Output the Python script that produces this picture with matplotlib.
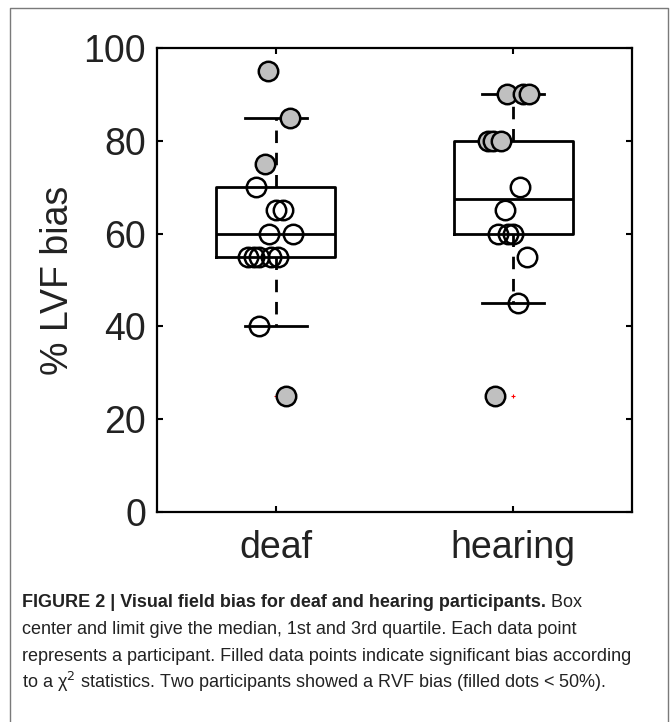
import matplotlib
matplotlib.use("Agg")
import matplotlib.pyplot as plt
from matplotlib.lines import Line2D

plt.rcParams['font.family'] = ['Liberation Sans', 'DejaVu Sans']

W, H = 671, 722

groups = ['deaf', 'hearing']

# per participant values, x jitter as seen in the figure, and whether the bias was significant
deaf_vals = [95, 85, 75, 70, 65, 65, 60, 60, 55, 55, 55, 55, 55, 40, 25]
deaf_x = [0.967, 1.059, 0.954, 0.916, 1.003, 1.031, 0.972, 1.073,
          0.883, 0.907, 0.930, 0.982, 1.010, 0.930, 1.045]
deaf_sig = [1, 1, 1, 0, 0, 0, 0, 0, 0, 0, 0, 0, 0, 0, 1]

hearing_vals = [90, 90, 90, 80, 80, 80, 70, 65, 60, 60, 60, 55, 45, 25]
hearing_x = [1.975, 2.042, 2.068, 1.895, 1.916, 1.947, 2.028, 1.965,
             1.937, 1.979, 2.000, 2.059, 2.020, 1.923]
hearing_sig = [1, 1, 1, 1, 1, 1, 0, 0, 0, 0, 0, 0, 0, 1]

# box summary
medians = [60, 67.5]
q1 = [55, 60]
q3 = [70, 80]
whislo = [40, 45]
whishi = [85, 90]
outliers = [[95, 25], [25]]

caption_bold = "FIGURE 2 | Visual field bias for deaf and hearing participants."
caption_rest = " Box"
caption_lines = [
    "center and limit give the median, 1st and 3rd quartile. Each data point",
    "represents a participant. Filled data points indicate significant bias according",
    "to a \u03c7$^{2}$ statistics. Two participants showed a RVF bias (filled dots < 50%).",
]

fig = plt.figure(figsize=(W / 100, H / 100), dpi=100)
ax = fig.add_axes([157 / W, 1 - 512 / H, 475 / W, 464 / H])

stats = []
for i in range(len(groups)):
    stats.append(dict(med=medians[i], q1=q1[i], q3=q3[i],
                      whislo=whislo[i], whishi=whishi[i],
                      fliers=outliers[i], label=groups[i]))

lw = 2.0
ax.bxp(stats, positions=[1, 2], widths=0.5, capwidths=0.26,
       boxprops=dict(color='k', linewidth=lw),
       medianprops=dict(color='k', linewidth=lw),
       whiskerprops=dict(color='k', linewidth=lw, linestyle=(0, (4.5, 3.5))),
       capprops=dict(color='k', linewidth=lw),
       flierprops=dict(marker='+', markeredgecolor='red', markersize=3,
                       markeredgewidth=0.8, linestyle='none'),
       zorder=2)

for xs, vs, sig in [(deaf_x, deaf_vals, deaf_sig), (hearing_x, hearing_vals, hearing_sig)]:
    ox = [x for x, s in zip(xs, sig) if not s]
    oy = [v for v, s in zip(vs, sig) if not s]
    fx = [x for x, s in zip(xs, sig) if s]
    fy = [v for v, s in zip(vs, sig) if s]
    ax.plot(ox, oy, 'o', mfc='none', mec='k', ms=14, mew=1.8, zorder=3)
    ax.plot(fx, fy, 'o', mfc='#c0c0c0', mec='k', ms=14, mew=1.8, zorder=4)

ax.set_xlim(0.5, 2.5)
ax.set_ylim(0, 100)
ax.set_yticks([0, 20, 40, 60, 80, 100])
ax.set_xticks([1, 2])
ax.set_xticklabels(groups)
ax.tick_params(direction='in', top=True, right=True, length=4, width=1.5,
               labelsize=27, colors='k', labelcolor='#222222')
ax.tick_params(axis='y', pad=8)
ax.tick_params(axis='x', pad=13)
ax.set_ylabel('% LVF bias', fontsize=27, labelpad=5, color='#222222')
for sp in ax.spines.values():
    sp.set_linewidth(1.6)

# frame around the whole figure (open at the bottom)
bx = [10 / W, 10 / W, 668 / W, 668 / W]
by = [-0.01, 1 - 8 / H, 1 - 8 / H, -0.01]
fig.add_artist(Line2D(bx, by, color='#7a7a7a', linewidth=1.0,
                      transform=fig.transFigure))

# caption
cap_size = 13
cap_color = '#222222'
x0 = 22 / W
baselines = [607, 634, 661, 688]
renderer = fig.canvas.get_renderer()
t = fig.text(x0, 1 - baselines[0] / H, caption_bold, fontsize=cap_size,
             weight='bold', color=cap_color, va='baseline', ha='left')
bb = t.get_window_extent(renderer=renderer)
fig.text(bb.x1 / W, 1 - baselines[0] / H, caption_rest, fontsize=cap_size,
         color=cap_color, va='baseline', ha='left')
for line, yb in zip(caption_lines, baselines[1:]):
    fig.text(x0, 1 - yb / H, line, fontsize=cap_size,
             color=cap_color, va='baseline', ha='left')

fig.savefig('out.png', dpi=100)
